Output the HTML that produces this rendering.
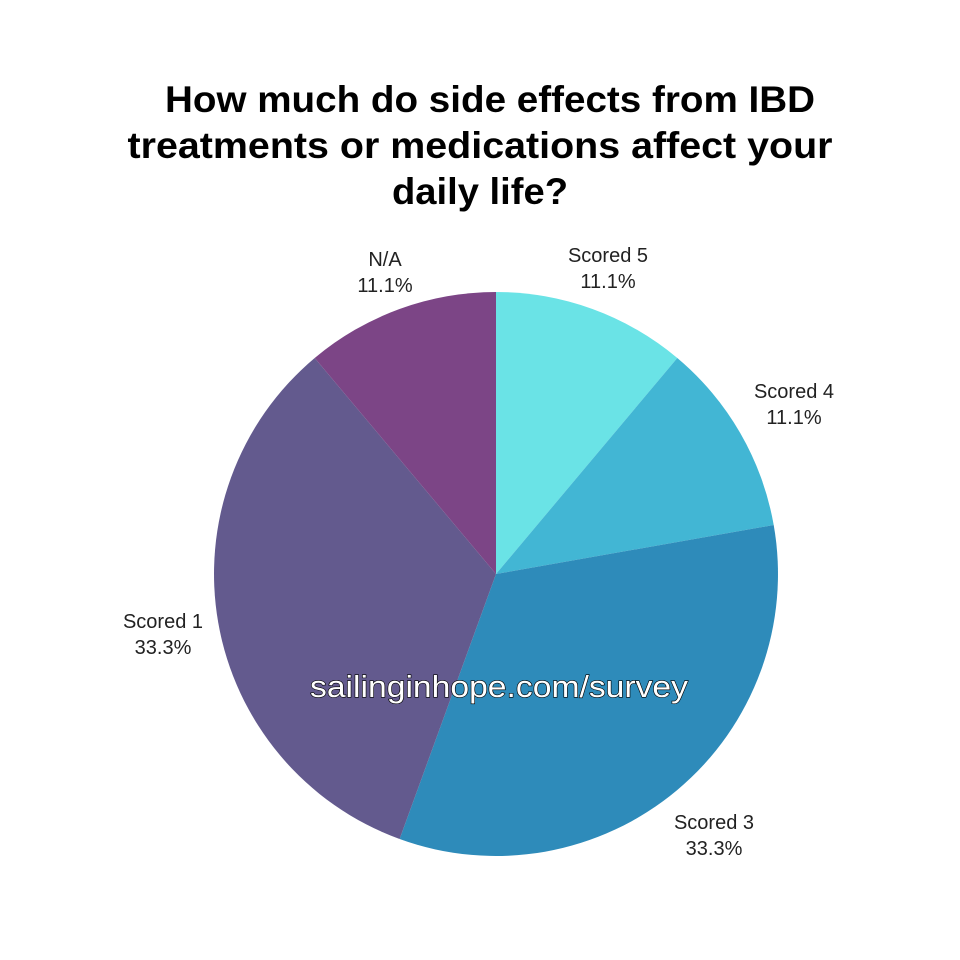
<!DOCTYPE html>
<html><head><meta charset="utf-8"><style>
html,body{margin:0;padding:0;background:#fff;}
svg{display:block}
</style></head><body>
<svg width="960" height="960" viewBox="0 0 960 960" xmlns="http://www.w3.org/2000/svg">
<rect width="960" height="960" fill="#fff"/>
<g font-family="Liberation Sans, sans-serif" font-weight="bold" font-size="37" text-anchor="middle" fill="#000" lengthAdjust="spacingAndGlyphs">
<text x="490" y="112" textLength="650" lengthAdjust="spacingAndGlyphs">How much do side effects from IBD</text>
<text x="480" y="158" textLength="705" lengthAdjust="spacingAndGlyphs">treatments or medications affect your</text>
<text x="480" y="204" textLength="176" lengthAdjust="spacingAndGlyphs">daily life?</text>
</g>
<g transform="translate(496,574)">
<path d="M0,0 L0,-282 A282,282 0 0 1 181.3,-216 Z" fill="#6AE3E6"/>
<path d="M0,0 L181.3,-216 A282,282 0 0 1 277.7,-49 Z" fill="#42B6D4"/>
<path d="M0,0 L277.7,-49 A282,282 0 0 1 -96.4,265 Z" fill="#2E8BBA"/>
<path d="M0,0 L-96.4,265 A282,282 0 0 1 -181.3,-216 Z" fill="#635A8E"/>
<path d="M0,0 L-181.3,-216 A282,282 0 0 1 0,-282 Z" fill="#7C4586"/>
</g>
<g font-family="Liberation Sans, sans-serif" font-size="20" fill="#222" text-anchor="middle">
<text x="385" y="266">N/A</text><text x="385" y="292">11.1%</text>
<text x="608" y="262">Scored 5</text><text x="608" y="288">11.1%</text>
<text x="794" y="398">Scored 4</text><text x="794" y="424">11.1%</text>
<text x="163" y="628">Scored 1</text><text x="163" y="654">33.3%</text>
<text x="714" y="829">Scored 3</text><text x="714" y="855">33.3%</text>
</g>
<text x="499" y="697" font-family="Liberation Sans, sans-serif" font-size="31" text-anchor="middle" fill="#fff" stroke="#000" stroke-width="1.2" paint-order="stroke" textLength="378" lengthAdjust="spacingAndGlyphs">sailinginhope.com/survey</text>
</svg>
</body></html>
